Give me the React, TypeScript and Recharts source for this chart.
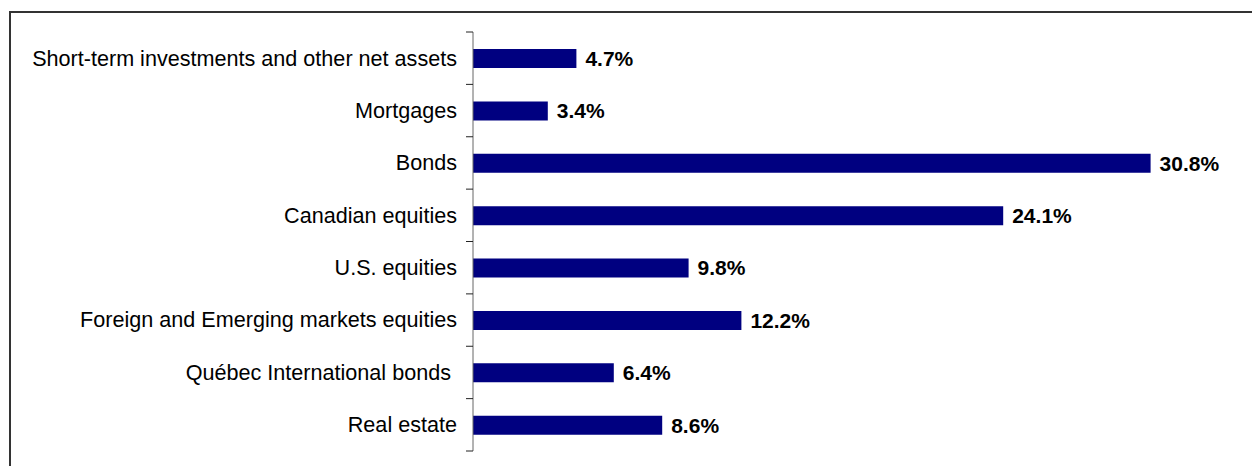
import { Bar, BarChart, LabelList, XAxis, YAxis } from "recharts"

const categories = [
  "Short-term investments and other net assets",
  "Mortgages",
  "Bonds",
  "Canadian equities",
  "U.S. equities",
  "Foreign and Emerging markets equities",
  "Québec International bonds ",
  "Real estate",
]

const shares = [4.7, 3.4, 30.8, 24.1, 9.8, 12.2, 6.4, 8.6]

const data = categories.map((name, i) => ({ name, value: shares[i] }))

const WIDTH = 1252
const HEIGHT = 466
const MARGIN = { top: 32, right: 9, bottom: 15, left: 0 }
const step = (HEIGHT - MARGIN.top - MARGIN.bottom) / categories.length

function CategoryTick(props: any) {
  const { x, y, payload, index } = props
  const axisX = x + 16
  const last = index === categories.length - 1
  return (
    <g>
      <line x1={axisX - 7} x2={axisX} y1={y - step / 2} y2={y - step / 2} stroke="#222" />
      {last && (
        <line x1={axisX - 7} x2={axisX} y1={y + step / 2} y2={y + step / 2} stroke="#222" />
      )}
      <text
        x={x}
        y={y}
        dy="0.34em"
        textAnchor="end"
        fontSize={21.6}
        fill="#000"
        style={{ whiteSpace: "pre" }}
      >
        {payload.value}
      </text>
    </g>
  )
}

export default function App() {
  return (
    <div
      style={{
        position: "absolute",
        left: 0,
        top: 0,
        width: WIDTH,
        height: HEIGHT,
        overflow: "hidden",
        background: "#fff",
        fontFamily: "Arial, 'Liberation Sans', sans-serif",
      }}
    >
      <div
        style={{
          position: "absolute",
          left: 9,
          top: 11,
          width: 1300,
          height: 500,
          border: "2px solid #333",
        }}
      />
      <div style={{ position: "absolute", left: 0, top: 0 }}>
        <BarChart
          width={WIDTH}
          height={HEIGHT}
          data={data}
          layout="vertical"
          margin={MARGIN}
        >
          <XAxis type="number" domain={[0, 35]} hide />
          <YAxis
            type="category"
            dataKey="name"
            width={473}
            tickLine={false}
            axisLine={{ stroke: "#666" }}
            tickMargin={10}
            tick={<CategoryTick />}
            interval={0}
          />
          <Bar dataKey="value" fill="#000080" barSize={19} isAnimationActive={false}>
            <LabelList
              dataKey="value"
              position="right"
              offset={9}
              formatter={(v: any) => `${Number(v).toFixed(1)}%`}
              fontSize={21}
              fontWeight="bold"
              fill="#000"
            />
          </Bar>
        </BarChart>
      </div>
    </div>
  )
}
